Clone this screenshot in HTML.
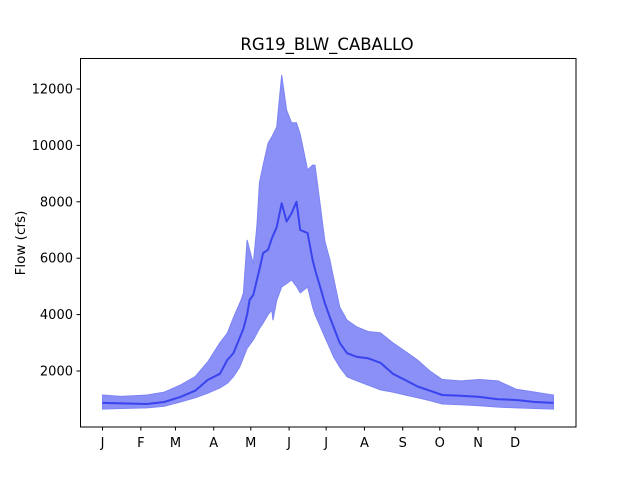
<!DOCTYPE html>
<html><head><meta charset="utf-8">
<style>
body{margin:0;background:#fff;}
svg{display:block;font-family:"DejaVu Sans","Liberation Sans",sans-serif;}
</style></head>
<body>
<svg id="chart" width="640" height="480" viewBox="0 0 640 480" xmlns="http://www.w3.org/2000/svg">
<rect width="640" height="480" fill="#fff"/>
<text x="327" y="50" font-size="16.5" text-anchor="middle">RG19_BLW_CABALLO</text>
<text transform="translate(25,243) rotate(-90)" font-size="13.5" text-anchor="middle">Flow (cfs)</text>
<g id="plot"></g>
<rect x="80.5" y="58.5" width="495.5" height="368.5" fill="none" stroke="#000" stroke-width="1"/>
</svg>
<script>
const upperDays=[0,15,36,50,63,75,85,95,101,106,112,114,117,119,122,125,127,130,134,137,141,145,149,153,157,160,166,170,172,176,180,184,187,192,198,206,215,225,235,245,255,265,275,290,305,320,335,350,365];
const upperVals=[1150,1100,1150,1250,1500,1800,2320,3000,3340,3900,4500,4770,6650,6300,5800,7200,8670,9300,10080,10300,10650,12500,11250,10800,10800,10400,9130,9300,9300,7950,6600,5940,5300,4270,3800,3560,3400,3350,3000,2700,2390,2000,1700,1650,1700,1650,1350,1250,1150];
const medDays=[0,15,36,50,63,75,85,95,101,106,114,117,119,122,127,130,134,137,141,145,149,153,157,160,166,170,172,176,180,184,187,192,198,206,215,225,235,245,255,265,275,290,305,320,335,350,365];
const medVals=[870,850,830,900,1080,1300,1680,1900,2390,2640,3500,4000,4520,4700,5600,6180,6300,6700,7100,7950,7300,7600,8000,7000,6890,5940,5600,5000,4400,3900,3560,3000,2630,2500,2450,2290,1900,1680,1450,1300,1150,1120,1080,1000,970,900,870];
const lowerDays=[0,15,36,50,63,75,85,95,101,106,111,117,122,127,130,134,137,138,141,145,149,153,157,160,166,170,172,176,180,184,187,192,198,206,215,225,235,245,255,265,275,290,305,320,335,350,365];
const lowerVals=[650,670,690,750,900,1050,1210,1400,1560,1800,2140,2800,3100,3500,3700,4000,4160,3800,4500,4980,5100,5230,5000,4770,4980,4270,4000,3600,3200,2800,2500,2140,1790,1650,1500,1330,1250,1150,1050,950,830,800,770,720,690,670,650];
const yTicks=[2000,4000,6000,8000,10000,12000];
const monthLabels=["J","F","M","A","M","J","J","A","S","O","N","D"];
const monthDays=[0,31,59,90,120,151,181,212,243,273,304,334];

const L=80,R=576,T=58.5,B=427;
const xmin=-18.25,xmax=383.25,ymin=0,ymax=13100;
function sx(d){return L+(d-xmin)/(xmax-xmin)*(R-L);}
function sy(v){return 427.4-(v-ymin)*0.0282;}
const NS="http://www.w3.org/2000/svg";
const g=document.getElementById('plot');
function mk(t,a){const e=document.createElementNS(NS,t);for(const k in a)e.setAttribute(k,a[k]);g.appendChild(e);return e;}

let d="M"+upperDays.map((x,i)=>sx(x).toFixed(1)+","+sy(upperVals[i]).toFixed(1)).join("L");
for(let i=lowerDays.length-1;i>=0;i--)d+="L"+sx(lowerDays[i]).toFixed(1)+","+sy(lowerVals[i]).toFixed(1);
d+="Z";
const band=mk('path',{d:d,fill:'#8a90f6',stroke:'#7d84f4','stroke-width':1});



const med=mk('polyline',{points:medDays.map((x,i)=>sx(x).toFixed(1)+","+sy(medVals[i]).toFixed(1)).join(" "),fill:'none',stroke:'#3a44ee','stroke-width':2,'stroke-linejoin':'round'});



yTicks.forEach(v=>{
  const y=sy(v);
  const t=mk('line',{x1:L-3.5,x2:L,y1:y,y2:y,stroke:'#000','stroke-width':1});
  
  
  const l=mk('text',{x:L-7,y:y+4.5,'font-size':13,'text-anchor':'end'});
  l.textContent=v;
  
  
});
monthDays.forEach((m,i)=>{
  const x=sx(m);
  const t=mk('line',{x1:x,x2:x,y1:B,y2:B+3.5,stroke:'#000','stroke-width':1});
  
  
  const l=mk('text',{x:x,y:B+20,'font-size':13,'text-anchor':'middle'});
  l.textContent=monthLabels[i];
  
  
});
</script>
</body></html>
